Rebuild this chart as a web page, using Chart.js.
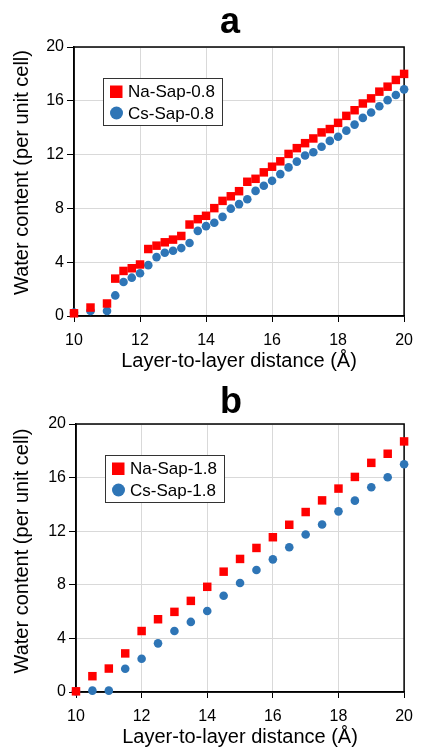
<!DOCTYPE html>
<html>
<head>
<meta charset="utf-8">
<script src="https://cdn.jsdelivr.net/npm/chart.js@4.4.1/dist/chart.umd.min.js"></script>
<style>
  body { margin: 0; background: #fff; }
  #chart-a { width: 422px; height: 375px; position: relative; }
  #chart-b { width: 422px; height: 376px; position: relative; }
</style>
</head>
<body>
<div id="chart-a"></div>
<div id="chart-b"></div>
<script>
// panel a: layer-to-layer distance (Å) and water content per unit cell
var distA = [10, 10.5, 11, 11.25, 11.5, 11.75, 12, 12.25, 12.5, 12.75, 13, 13.25, 13.5, 13.75,
  14, 14.25, 14.5, 14.75, 15, 15.25, 15.5, 15.75, 16, 16.25, 16.5, 16.75, 17, 17.25, 17.5,
  17.75, 18, 18.25, 18.5, 18.75, 19, 19.25, 19.5, 19.75, 20];
var naA = [0.2, 0.63, 0.93, 2.78, 3.35, 3.55, 3.83, 4.98, 5.23, 5.48, 5.68, 5.95, 6.8, 7.2,
  7.45, 8.02, 8.56, 8.9, 9.28, 9.98, 10.2, 10.68, 11.1, 11.5, 12.05, 12.48, 12.85, 13.2, 13.65,
  13.9, 14.36, 14.88, 15.3, 15.8, 16.18, 16.68, 17.05, 17.55, 18.0];
var csA = [0.25, 0.38, 0.38, 1.53, 2.53, 2.85, 3.18, 3.78, 4.38, 4.7, 4.85, 5.05, 5.43, 6.33,
  6.68, 6.93, 7.37, 7.98, 8.32, 8.68, 9.3, 9.68, 10.05, 10.55, 11.05, 11.48, 11.93, 12.18, 12.58,
  13.02, 13.33, 13.78, 14.23, 14.73, 15.13, 15.6, 16.05, 16.43, 16.85];

// panel b
var distB = [10, 10.5, 11, 11.5, 12, 12.5, 13, 13.5, 14, 14.5, 15, 15.5, 16, 16.5, 17, 17.5,
  18, 18.5, 19, 19.5, 20];
var naB = [0.05, 1.18, 1.75, 2.88, 4.55, 5.43, 5.98, 6.8, 7.85, 8.98, 9.93, 10.75, 11.55, 12.48,
  13.43, 14.3, 15.18, 16.05, 17.1, 17.78, 18.7];
var csB = [0.05, 0.1, 0.1, 1.73, 2.48, 3.63, 4.55, 5.23, 6.05, 7.18, 8.13, 9.1, 9.9, 10.8,
  11.75, 12.5, 13.48, 14.28, 15.28, 16.03, 17.0];

var xTicks = [10, 12, 14, 16, 18, 20];
var yTicks = [0, 4, 8, 12, 16, 20];

var xTitle = "Layer-to-layer distance (Å)";
var yTitle = "Water content (per unit cell)";

var FONT = "'Liberation Sans', Arial, sans-serif";

function makeCanvas(id) {
  var container = document.getElementById(id);
  var canvas = document.createElement("canvas");
  container.innerHTML = "";
  container.appendChild(canvas);
  return canvas.getContext("2d");
}

function toPoints(xs, ys) {
  return xs.map(function(x, i) {
    return { x: x, y: ys[i] };
  });
}

// black box round the plot area
var frame = {
  id: "frame",
  beforeDatasetsDraw: function(chart) {
    var a = chart.chartArea;
    var ctx = chart.ctx;
    ctx.save();
    ctx.strokeStyle = "#000";
    ctx.lineWidth = 1.5;
    ctx.strokeRect(a.left, a.top, a.right - a.left, a.bottom - a.top);
    ctx.restore();
  }
};

// panel letter and y title (placed a little off the plot centre, as in the figure)
var panelText = {
  id: "panelText",
  afterDraw: function(chart, args, opts) {
    var a = chart.chartArea;
    var ctx = chart.ctx;
    ctx.save();
    ctx.fillStyle = "#000";
    ctx.textAlign = "center";
    ctx.textBaseline = "alphabetic";
    ctx.font = "bold 36px " + FONT;
    ctx.fillText(opts.letter, (a.left + a.right) / 2 + opts.letterShift, opts.letterBase);
    ctx.translate(28, (a.top + a.bottom) / 2 + opts.yTitleShift);
    ctx.rotate(-Math.PI / 2);
    ctx.font = "20px " + FONT;
    ctx.fillText(yTitle, 0, 0);
    ctx.restore();
  }
};

// boxed legend inside the plot, top left
var boxLegend = {
  id: "boxLegend",
  afterDraw: function(chart) {
    var a = chart.chartArea;
    var ctx = chart.ctx;
    var x = a.left + 29, y = a.top + 31, w = 119, h = 47;
    ctx.save();
    ctx.fillStyle = "#fff";
    ctx.fillRect(x, y, w, h);
    ctx.strokeStyle = "#333";
    ctx.lineWidth = 1;
    ctx.strokeRect(x + 0.5, y + 0.5, w, h);
    chart.data.datasets.forEach(function(ds, i) {
      var cy = y + 13.5 + i * 21.5;
      ctx.fillStyle = ds.backgroundColor;
      if (ds.pointStyle === "rect") {
        ctx.fillRect(x + 7, cy - 6, 12.5, 12.5);
      } else {
        ctx.beginPath();
        ctx.arc(x + 13.5, cy, 6.5, 0, Math.PI * 2);
        ctx.fill();
      }
      ctx.fillStyle = "#000";
      ctx.font = "17px " + FONT;
      ctx.textBaseline = "middle";
      ctx.fillText(ds.label, x + 25, cy + 1);
    });
    ctx.restore();
  }
};

function renderPanel(id, letter, xs, na, cs, naLabel, csLabel, yWidth, rightPad, topPad, text) {
  var data = {
    datasets: [{
      label: naLabel,
      data: toPoints(xs, na),
      pointStyle: "rect",
      pointRadius: 6,
      pointHoverRadius: 6,
      backgroundColor: "#ff0000",
      borderColor: "#ff0000",
      borderWidth: 0,
      clip: false
    }, {
      label: csLabel,
      data: toPoints(xs, cs),
      pointStyle: "circle",
      pointRadius: 4.3,
      pointHoverRadius: 4.3,
      backgroundColor: "#2e75b6",
      borderColor: "#2e75b6",
      borderWidth: 0,
      clip: false
    }]
  };

  text.letter = letter;

  var config = {
    type: "scatter",
    data: data,
    options: {
      responsive: true,
      maintainAspectRatio: false,
      animation: false,
      layout: { padding: { left: 0, right: rightPad, top: topPad, bottom: 0 } },
      plugins: {
        legend: { display: false },
        tooltip: { enabled: false },
        title: { display: false },
        panelText: text
      },
      scales: {
        x: {
          type: "linear",
          min: 10,
          max: 20,
          afterBuildTicks: function(scale) {
            scale.ticks = xTicks.map(function(v) { return { value: v }; });
          },
          afterFit: function(scale) { scale.height = 59; },
          grid: { color: "#d9d9d9", tickColor: "#000", tickLength: 6, lineWidth: 1 },
          border: { color: "#000", width: 1.5 },
          ticks: { color: "#000", padding: 9, font: { family: FONT, size: 16 }, maxRotation: 0 },
          title: {
            display: true,
            text: xTitle,
            color: "#000",
            font: { family: FONT, size: 20 },
            padding: { top: 0, bottom: 2 }
          }
        },
        y: {
          min: 0,
          max: 20,
          afterBuildTicks: function(scale) {
            scale.ticks = yTicks.map(function(v) { return { value: v }; });
          },
          afterFit: function(scale) { scale.width = yWidth; },
          grid: { color: "#d9d9d9", tickColor: "#000", tickLength: 7, lineWidth: 1 },
          border: { color: "#000", width: 1.5 },
          ticks: { color: "#000", padding: 3, font: { family: FONT, size: 16 } },
          title: { display: false }
        }
      }
    },
    plugins: [frame, panelText, boxLegend]
  };

  return new Chart(makeCanvas(id), config);
}

renderPanel("chart-a", "a", distA, naA, csA, "Na-Sap-0.8", "Cs-Sap-0.8", 74, 16, 47,
  { letterShift: -9, letterBase: 33, yTitleShift: -9 });
renderPanel("chart-b", "b", distB, naB, csB, "Na-Sap-1.8", "Cs-Sap-1.8", 76, 15, 49,
  { letterShift: -9, letterBase: 38, yTitleShift: -7 });
</script>
</body>
</html>
